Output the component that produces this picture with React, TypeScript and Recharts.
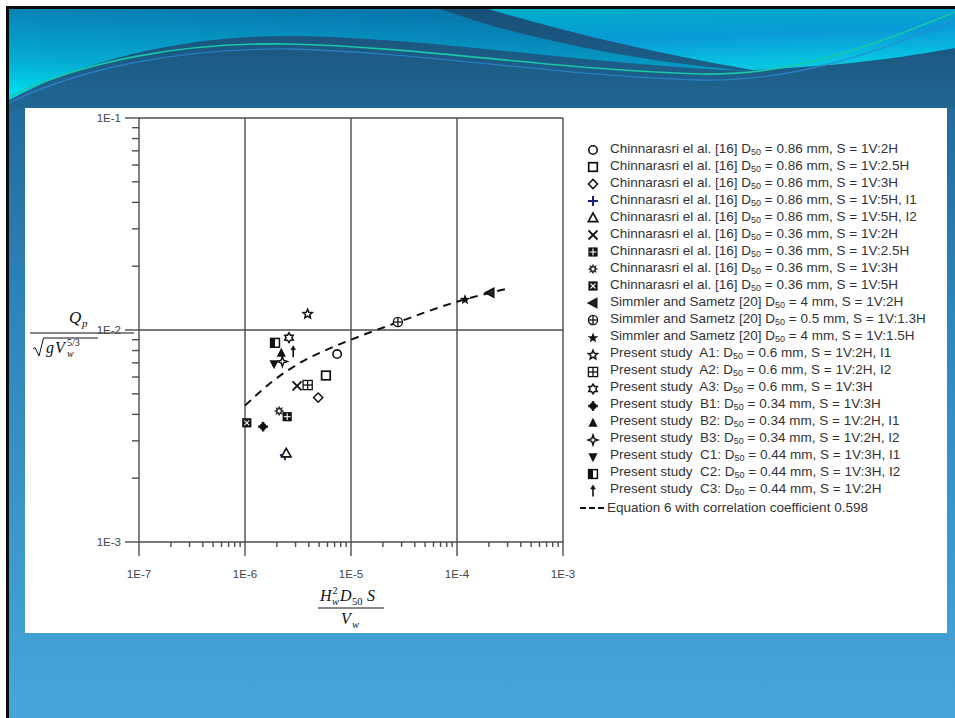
import React from 'react';
import { ComposedChart, Scatter, Line, XAxis, YAxis, ReferenceLine, Legend } from 'recharts';

type Pt = { x: number; y: number };

// Chinnarasri el al. [16]
const chin086_2H: Pt[] = [{ x: 7.4e-6, y: 7.7e-3 }];
const chin086_25H: Pt[] = [{ x: 5.8e-6, y: 6.1e-3 }];
const chin086_3H: Pt[] = [{ x: 4.9e-6, y: 4.8e-3 }];
const chin086_5H_I1: Pt[] = [{ x: 2.38e-6, y: 2.57e-3 }];
const chin086_5H_I2: Pt[] = [{ x: 2.45e-6, y: 2.62e-3 }];
const chin036_2H: Pt[] = [{ x: 3.1e-6, y: 5.45e-3 }];
const chin036_25H: Pt[] = [{ x: 2.5e-6, y: 3.9e-3 }];
const chin036_3H: Pt[] = [{ x: 2.1e-6, y: 4.15e-3 }];
const chin036_5H: Pt[] = [{ x: 1.04e-6, y: 3.65e-3 }];
// Simmler and Sametz [20]
const sim4_2H: Pt[] = [{ x: 2.05e-4, y: 1.5e-2 }];
const sim05_13H: Pt[] = [{ x: 2.77e-5, y: 1.09e-2 }];
const sim4_15H: Pt[] = [{ x: 1.19e-4, y: 1.39e-2 }];
// Present study
const studyA1: Pt[] = [{ x: 3.9e-6, y: 1.19e-2 }];
const studyA2: Pt[] = [{ x: 3.9e-6, y: 5.5e-3 }];
const studyA3: Pt[] = [{ x: 2.6e-6, y: 9.2e-3 }];
const studyB1: Pt[] = [{ x: 1.48e-6, y: 3.5e-3 }];
const studyB2: Pt[] = [{ x: 2.2e-6, y: 7.8e-3 }];
const studyB3: Pt[] = [{ x: 2.25e-6, y: 7.1e-3 }];
const studyC1: Pt[] = [{ x: 1.88e-6, y: 6.9e-3 }];
const studyC2: Pt[] = [{ x: 1.92e-6, y: 8.7e-3 }];
const studyC3: Pt[] = [{ x: 2.85e-6, y: 7.9e-3 }];

// Equation 6
const equation6: Pt[] = [
  { x: 1e-6, y: 4.4e-3 },
  { x: 1.8e-6, y: 5.7e-3 },
  { x: 3.3e-6, y: 7.0e-3 },
  { x: 6e-6, y: 8.1e-3 },
  { x: 1e-5, y: 9.0e-3 },
  { x: 2.8e-5, y: 1.09e-2 },
  { x: 1e-4, y: 1.36e-2 },
  { x: 3.2e-4, y: 1.58e-2 },
];

const xDecades = [1e-7, 1e-6, 1e-5, 1e-4, 1e-3];
const yDecades = [1e-3, 1e-2, 1e-1];
const xTickLabels = ['1E-7', '1E-6', '1E-5', '1E-4', '1E-3'];
const yTickLabels = ['1E-3', '1E-2', '1E-1'];
const minorSteps = [2, 3, 4, 5, 6, 7, 8, 9];

const withMinors = (decades: number[]) => {
  const out: number[] = [];
  decades.forEach((d, i) => {
    out.push(d);
    if (i < decades.length - 1) minorSteps.forEach((m) => out.push(m * d));
  });
  return out;
};
const xTicks = withMinors(xDecades);
const yTicks = withMinors(yDecades);

const isDecade = (v: number) => Math.abs(Math.log10(v) - Math.round(Math.log10(v))) < 1e-6;
const decadeLabel = (v: number, decades: number[], labels: string[]) => {
  const i = decades.findIndex((d) => Math.abs(Math.log10(d) - Math.log10(v)) < 1e-6);
  return i >= 0 ? labels[i] : '';
};

type Kind =
  | 'circle' | 'square' | 'diamond' | 'plus' | 'triangle' | 'cross' | 'gridFilled' | 'gear'
  | 'boxX' | 'leftTri' | 'circlePlus' | 'starFilled' | 'starOpen' | 'gridOpen' | 'hexagram'
  | 'plusBlob' | 'triFilled' | 'star4' | 'triDown' | 'halfSquare' | 'dagger';

const INK = '#111';

const starPoints = (cx: number, cy: number, R: number, r: number, n: number, rot = -Math.PI / 2) => {
  const pts: string[] = [];
  for (let i = 0; i < n * 2; i++) {
    const a = rot + (i * Math.PI) / n;
    const rad = i % 2 === 0 ? R : r;
    pts.push(`${cx + rad * Math.cos(a)},${cy + rad * Math.sin(a)}`);
  }
  return pts.join(' ');
};

const drawMark = (kind: Kind, cx: number, cy: number) => {
  switch (kind) {
    case 'circle':
      return <circle cx={cx} cy={cy} r={4.2} fill="#fff" stroke={INK} strokeWidth={1.6} />;
    case 'square':
      return <rect x={cx - 4.3} y={cy - 4.3} width={8.6} height={8.6} fill="#fff" stroke={INK} strokeWidth={1.7} />;
    case 'diamond':
      return <polygon points={`${cx},${cy - 4.6} ${cx + 4.6},${cy} ${cx},${cy + 4.6} ${cx - 4.6},${cy}`} fill="#fff" stroke={INK} strokeWidth={1.5} />;
    case 'plus':
      return (
        <g stroke="#1c2180" strokeWidth={2}>
          <line x1={cx - 5} y1={cy} x2={cx + 5} y2={cy} />
          <line x1={cx} y1={cy - 5} x2={cx} y2={cy + 5} />
        </g>
      );
    case 'triangle':
      return <polygon points={`${cx},${cy - 5} ${cx + 4.8},${cy + 3.6} ${cx - 4.8},${cy + 3.6}`} fill="#fff" stroke={INK} strokeWidth={1.6} />;
    case 'cross':
      return (
        <g stroke={INK} strokeWidth={1.8}>
          <line x1={cx - 4.5} y1={cy - 4.5} x2={cx + 4.5} y2={cy + 4.5} />
          <line x1={cx - 4.5} y1={cy + 4.5} x2={cx + 4.5} y2={cy - 4.5} />
        </g>
      );
    case 'gridFilled':
      return (
        <g>
          <rect x={cx - 4.6} y={cy - 4.6} width={9.2} height={9.2} fill={INK} />
          <line x1={cx - 3.4} y1={cy} x2={cx + 3.4} y2={cy} stroke="#fff" strokeWidth={1.1} />
          <line x1={cx} y1={cy - 3.4} x2={cx} y2={cy + 3.4} stroke="#fff" strokeWidth={1.1} />
        </g>
      );
    case 'gear':
      return (
        <g>
          <polygon points={starPoints(cx, cy, 5.2, 3.2, 8)} fill="#3a3a3a" />
          <circle cx={cx} cy={cy} r={1.5} fill="#fff" />
        </g>
      );
    case 'boxX':
      return (
        <g>
          <rect x={cx - 4.6} y={cy - 4.6} width={9.2} height={9.2} fill={INK} />
          <g stroke="#fff" strokeWidth={1.1}>
            <line x1={cx - 2.5} y1={cy - 2.5} x2={cx + 2.5} y2={cy + 2.5} />
            <line x1={cx - 2.5} y1={cy + 2.5} x2={cx + 2.5} y2={cy - 2.5} />
          </g>
        </g>
      );
    case 'leftTri':
      return <polygon points={`${cx - 4.8},${cy} ${cx + 3.8},${cy - 4.6} ${cx + 3.8},${cy + 4.6}`} fill="#222" stroke={INK} strokeWidth={1.4} />;
    case 'circlePlus':
      return (
        <g stroke={INK} strokeWidth={1.3}>
          <circle cx={cx} cy={cy} r={4.6} fill="#fff" />
          <line x1={cx - 4.6} y1={cy} x2={cx + 4.6} y2={cy} />
          <line x1={cx} y1={cy - 4.6} x2={cx} y2={cy + 4.6} />
        </g>
      );
    case 'starFilled':
      return <polygon points={starPoints(cx, cy, 5.6, 2.3, 5)} fill={INK} />;
    case 'starOpen':
      return <polygon points={starPoints(cx, cy, 4.8, 2.2, 5)} fill="#fff" stroke={INK} strokeWidth={1.5} />;
    case 'gridOpen':
      return (
        <g stroke={INK} strokeWidth={1.3}>
          <rect x={cx - 4.6} y={cy - 4.6} width={9.2} height={9.2} fill="#fff" />
          <line x1={cx - 4.6} y1={cy} x2={cx + 4.6} y2={cy} />
          <line x1={cx} y1={cy - 4.6} x2={cx} y2={cy + 4.6} />
        </g>
      );
    case 'hexagram':
      return <polygon points={starPoints(cx, cy, 4.9, 2.9, 6)} fill="#fff" stroke={INK} strokeWidth={1.5} />;
    case 'plusBlob':
      return (
        <g>
          <circle cx={cx} cy={cy} r={3.3} fill={INK} />
          <line x1={cx - 4.8} y1={cy} x2={cx + 4.8} y2={cy} stroke={INK} strokeWidth={2.6} />
          <line x1={cx} y1={cy - 4.8} x2={cx} y2={cy + 4.8} stroke={INK} strokeWidth={2.6} />
        </g>
      );
    case 'triFilled':
      return <polygon points={`${cx},${cy - 5.2} ${cx + 4.6},${cy + 3.8} ${cx - 4.6},${cy + 3.8}`} fill={INK} />;
    case 'star4':
      return <polygon points={starPoints(cx, cy, 5, 1.8, 4)} fill="#fff" stroke={INK} strokeWidth={1.5} />;
    case 'triDown':
      return <polygon points={`${cx},${cy + 5.2} ${cx + 4.6},${cy - 3.8} ${cx - 4.6},${cy - 3.8}`} fill={INK} />;
    case 'halfSquare':
      return (
        <g>
          <rect x={cx - 4.4} y={cy - 4.4} width={8.8} height={8.8} fill="#fff" stroke={INK} strokeWidth={1.5} />
          <rect x={cx - 4.4} y={cy - 4.4} width={4.4} height={8.8} fill={INK} />
        </g>
      );
    case 'dagger':
      return (
        <g fill={INK} stroke={INK}>
          <line x1={cx} y1={cy - 3} x2={cx} y2={cy + 5.5} strokeWidth={1.6} />
          <polygon points={`${cx},${cy - 6} ${cx - 2.3},${cy - 2} ${cx + 2.3},${cy - 2}`} strokeWidth={0.6} />
        </g>
      );
    default:
      return null;
  }
};

type Series = { name: React.ReactNode; data: Pt[]; kind: Kind };

const D50 = (
  <>
    D<span style={{ fontSize: '9px', verticalAlign: '-2px' }}>50</span>
  </>
);
const chin = (d: string, s: string) => (
  <>Chinnarasri el al. [16] {D50} = {d} mm, S = {s}</>
);
const sim = (d: string, s: string) => (
  <>Simmler and Sametz [20] {D50} = {d} mm, S = {s}</>
);
const study = (id: string, d: string, s: string) => (
  <>Present study  {id}: {D50} = {d} mm, S = {s}</>
);

const seriesList: Series[] = [
  { name: chin('0.86', '1V:2H'), data: chin086_2H, kind: 'circle' },
  { name: chin('0.86', '1V:2.5H'), data: chin086_25H, kind: 'square' },
  { name: chin('0.86', '1V:3H'), data: chin086_3H, kind: 'diamond' },
  { name: chin('0.86', '1V:5H, I1'), data: chin086_5H_I1, kind: 'plus' },
  { name: chin('0.86', '1V:5H, I2'), data: chin086_5H_I2, kind: 'triangle' },
  { name: chin('0.36', '1V:2H'), data: chin036_2H, kind: 'cross' },
  { name: chin('0.36', '1V:2.5H'), data: chin036_25H, kind: 'gridFilled' },
  { name: chin('0.36', '1V:3H'), data: chin036_3H, kind: 'gear' },
  { name: chin('0.36', '1V:5H'), data: chin036_5H, kind: 'boxX' },
  { name: sim('4', '1V:2H'), data: sim4_2H, kind: 'leftTri' },
  { name: sim('0.5', '1V:1.3H'), data: sim05_13H, kind: 'circlePlus' },
  { name: sim('4', '1V:1.5H'), data: sim4_15H, kind: 'starFilled' },
  { name: study('A1', '0.6', '1V:2H, I1'), data: studyA1, kind: 'starOpen' },
  { name: study('A2', '0.6', '1V:2H, I2'), data: studyA2, kind: 'gridOpen' },
  { name: study('A3', '0.6', '1V:3H'), data: studyA3, kind: 'hexagram' },
  { name: study('B1', '0.34', '1V:3H'), data: studyB1, kind: 'plusBlob' },
  { name: study('B2', '0.34', '1V:2H, I1'), data: studyB2, kind: 'triFilled' },
  { name: study('B3', '0.34', '1V:2H, I2'), data: studyB3, kind: 'star4' },
  { name: study('C1', '0.44', '1V:3H, I1'), data: studyC1, kind: 'triDown' },
  { name: study('C2', '0.44', '1V:3H, I2'), data: studyC2, kind: 'halfSquare' },
  { name: study('C3', '0.44', '1V:2H'), data: studyC3, kind: 'dagger' },
];

const GRID = '#4d4d4d';
const SANS = '"Liberation Sans", Arial, sans-serif';
const SERIF = '"Liberation Serif", "Times New Roman", serif';
const ROW = 17.05;

const XTick = (props: any) => {
  const { x, y, payload } = props;
  const major = isDecade(payload.value);
  return (
    <g>
      <line x1={x} y1={y} x2={x} y2={y + (major ? 14 : 5)} stroke={GRID} strokeWidth={1.4} />
      {major && (
        <text x={x} y={y + 36} textAnchor="middle" fontSize={11.5} fill="#444" fontFamily={SANS}>
          {decadeLabel(payload.value, xDecades, xTickLabels)}
        </text>
      )}
    </g>
  );
};

const YTick = (props: any) => {
  const { x, y, payload } = props;
  const major = isDecade(payload.value);
  return (
    <g>
      <line x1={x - (major ? 14 : 7)} y1={y} x2={x} y2={y} stroke={GRID} strokeWidth={1.4} />
      {major && (
        <text x={x - 18} y={y + 4} textAnchor="end" fontSize={11.5} fill="#444" fontFamily={SANS}>
          {decadeLabel(payload.value, yDecades, yTickLabels)}
        </text>
      )}
    </g>
  );
};

const XTitle = (props: any) => {
  const vb = props.viewBox || { x: 139, y: 542, width: 424 };
  const cx = vb.x + vb.width / 2;
  const by = vb.y + 59;
  const l = cx - 31;
  return (
    <g fontFamily={SERIF} fontStyle="italic" fill="#111">
      <text x={l} y={by} fontSize={16}>H</text>
      <text x={l + 12.5} y={by - 7} fontSize={10} fontStyle="normal">2</text>
      <text x={l + 12} y={by + 4} fontSize={10.5}>w</text>
      <text x={l + 20} y={by} fontSize={16}>D</text>
      <text x={l + 32} y={by + 4} fontSize={10.5} fontStyle="normal">50</text>
      <text x={l + 47} y={by} fontSize={16}>S</text>
      <line x1={cx - 33} y1={by + 7} x2={cx + 33} y2={by + 7} stroke="#111" strokeWidth={1} />
      <text x={cx - 10} y={by + 23} fontSize={16}>V</text>
      <text x={cx + 1} y={by + 27} fontSize={10.5}>w</text>
    </g>
  );
};

const YTitle = (props: any) => {
  const vb = props.viewBox || { x: 79, y: 118, width: 60, height: 424 };
  const cy = vb.y + vb.height / 2 + 3;
  const cx = 82;
  return (
    <g fontFamily={SERIF} fontStyle="italic" fill="#111">
      <text x={cx - 13} y={cy - 10} fontSize={17}>Q</text>
      <text x={cx} y={cy - 6} fontSize={11}>p</text>
      <line x1={cx - 52} y1={cy} x2={cx + 52} y2={cy} stroke="#111" strokeWidth={1} />
      <path
        d={`M${cx - 49},${cy + 16} L${cx - 47},${cy + 14.5} L${cx - 43},${cy + 23} L${cx - 38.5},${cy + 5} L${cx + 16},${cy + 5}`}
        fill="none"
        stroke="#111"
        strokeWidth={1}
      />
      <text x={cx - 36} y={cy + 20} fontSize={16}>g</text>
      <text x={cx - 27} y={cy + 20} fontSize={16}>V</text>
      <text x={cx - 15} y={cy + 24} fontSize={10}>w</text>
      <text x={cx - 15} y={cy + 13} fontSize={10} fontStyle="normal">5/3</text>
    </g>
  );
};

const LegendBox = () => (
  <div style={{ fontFamily: SANS, fontSize: '13.5px', color: '#333', lineHeight: `${ROW}px`, whiteSpace: 'pre' }}>
    {seriesList.map((s, i) => (
      <div key={i} style={{ display: 'flex', alignItems: 'center', height: `${ROW}px` }}>
        <svg width={14} height={14} style={{ marginRight: 10, flex: 'none' }}>
          {drawMark(s.kind, 7, 7)}
        </svg>
        <span>{s.name}</span>
      </div>
    ))}
    <div style={{ display: 'flex', alignItems: 'center', height: `${ROW}px`, marginLeft: -6 }}>
      <svg width={26} height={10} style={{ marginRight: 1, flex: 'none' }}>
        <line x1={0} y1={5} x2={26} y2={5} stroke="#111" strokeWidth={2} strokeDasharray="6 3" />
      </svg>
      <span>Equation 6 with correlation coefficient 0.598</span>
    </div>
  </div>
);

const SlideBackground = () => (
  <svg width={955} height={718} style={{ position: 'absolute', left: 0, top: 0 }}>
    <defs>
      <linearGradient id="bodyGrad" x1="0" y1="0" x2="0" y2="1">
        <stop offset="0" stopColor="#1d5f8e" />
        <stop offset="0.45" stopColor="#2f86bd" />
        <stop offset="1" stopColor="#46a6da" />
      </linearGradient>
      <linearGradient id="headGrad" x1="0" y1="0" x2="0" y2="1">
        <stop offset="0" stopColor="#184f78" />
        <stop offset="1" stopColor="#206793" />
      </linearGradient>
      <linearGradient id="leftLight" x1="0.4" y1="0" x2="0" y2="1">
        <stop offset="0" stopColor="#0878ad" />
        <stop offset="0.6" stopColor="#04aacf" />
        <stop offset="1" stopColor="#00e6f6" />
      </linearGradient>
      <linearGradient id="rightLight" x1="0" y1="0" x2="0.3" y2="1">
        <stop offset="0" stopColor="#00aec6" />
        <stop offset="0.55" stopColor="#0a9ad8" />
        <stop offset="1" stopColor="#08c6e2" />
      </linearGradient>
    </defs>
    <rect x={0} y={0} width={955} height={718} fill="#fff" />
    <rect x={6} y={6} width={949} height={712} fill="#0b0b0b" />
    <rect x={9} y={9} width={946} height={709} fill="url(#bodyGrad)" />
    <rect x={9} y={9} width={946} height={100} fill="url(#headGrad)" />
    <path
      d="M9,9 L440,9 C520,38 640,62 750,71 C600,66 420,36 285,36 C170,36 70,66 9,100 Z"
      fill="url(#leftLight)"
    />
    <path d="M488,9 L955,9 L955,48 C900,58 840,66 752,70 C650,52 565,32 488,9 Z" fill="url(#rightLight)" />
    <path
      d="M9,97 C80,62 180,42 290,44 C420,47 560,70 700,74 C800,76 880,42 955,12"
      fill="none"
      stroke="#19c6a8"
      strokeWidth={1.6}
    />
    <path
      d="M9,103 C80,68 180,48 290,49 C420,52 560,76 700,80 C800,82 880,50 955,20"
      fill="none"
      stroke="#2a86d0"
      strokeWidth={1.3}
      opacity={0.8}
    />
    <rect x={25} y={108} width={922} height={525} fill="#fff" />
  </svg>
);

const App = () => (
  <div style={{ position: 'absolute', left: 0, top: 0, width: 955, height: 718, overflow: 'hidden' }}>
    <SlideBackground />
    <div style={{ position: 'absolute', left: 0, top: 0 }}>
      <ComposedChart width={955} height={718} margin={{ top: 118, right: 392, bottom: 136, left: 79 }}>
        <XAxis
          dataKey="x"
          type="number"
          scale="log"
          domain={[1e-7, 1e-3]}
          allowDataOverflow
          ticks={xTicks}
          interval={0}
          tickSize={0}
          tickMargin={0}
          height={40}
          tick={<XTick />}
          tickLine={false}
          axisLine={{ stroke: GRID, strokeWidth: 1.4 }}
          label={{ content: (p: any) => <XTitle {...p} /> }}
        />
        <YAxis
          dataKey="y"
          type="number"
          scale="log"
          domain={[1e-3, 1e-1]}
          allowDataOverflow
          ticks={yTicks}
          interval={0}
          tickSize={0}
          tickMargin={0}
          width={60}
          tick={<YTick />}
          tickLine={false}
          axisLine={{ stroke: GRID, strokeWidth: 1.4 }}
          label={{ content: (p: any) => <YTitle {...p} /> }}
        />
        {xDecades.slice(1).map((v) => (
          <ReferenceLine key={`gx${v}`} x={v} stroke={GRID} strokeWidth={1.4} ifOverflow="visible" />
        ))}
        {yDecades.slice(1).map((v) => (
          <ReferenceLine key={`gy${v}`} y={v} stroke={GRID} strokeWidth={1.4} ifOverflow="visible" />
        ))}
        <Line
          data={equation6}
          dataKey="y"
          type="monotone"
          stroke="#111"
          strokeWidth={2}
          strokeDasharray="8 6"
          dot={false}
          activeDot={false}
          isAnimationActive={false}
          legendType="none"
        />
        {seriesList.map((s, i) => (
          <Scatter
            key={i}
            data={s.data}
            dataKey="y"
            isAnimationActive={false}
            shape={(p: any) => drawMark(s.kind, p.cx, p.cy) as any}
          />
        ))}
        <Legend
          layout="vertical"
          align="center"
          verticalAlign="middle"
          wrapperStyle={{ left: 586, top: 141.5, width: 361, height: 380 }}
          content={() => <LegendBox />}
        />
      </ComposedChart>
    </div>
  </div>
);

export default App;
